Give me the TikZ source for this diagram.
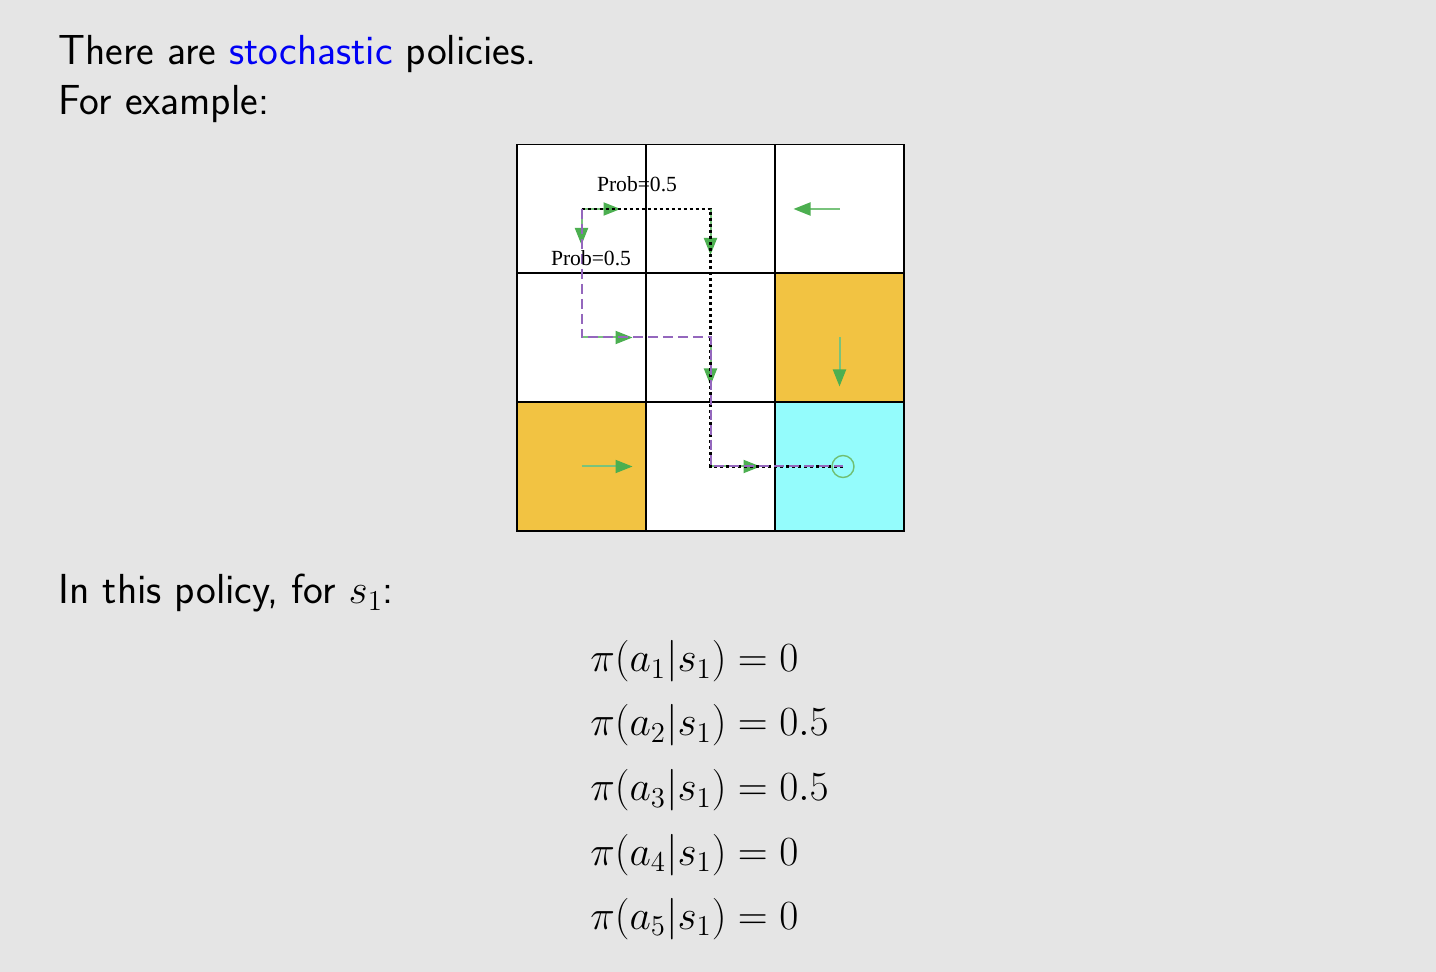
\documentclass[tikz,border=0pt]{standalone}
\usepackage{fontspec}
\newfontfamily\timesfont{Liberation Serif}
\usetikzlibrary{arrows.meta}
\definecolor{bg}{RGB}{229,229,229}
\definecolor{gold}{RGB}{242,195,66}
\definecolor{aqua}{RGB}{148,252,252}
\definecolor{agreen}{RGB}{76,175,80}
\definecolor{apurple}{RGB}{148,103,189}
\definecolor{sblue}{RGB}{0,0,245}
\tikzset{
  cell/.style={draw=black, line width=0.9pt, minimum size=64.5pt, inner sep=0pt, fill=white},
  act/.style={draw=agreen!75!white, line width=1pt, -{Triangle[color=agreen,length=8.5pt,width=6.5pt]}},
  pathA/.style={draw=black, line width=1.2pt, dash pattern=on 1.5pt off 1.5pt},
  pathB/.style={draw=apurple, line width=1pt, dash pattern=on 5pt off 2.5pt},
  bodytext/.style={anchor=base west, inner sep=0pt, font=\sffamily\fontsize{21}{25}\selectfont},
  eqtext/.style={anchor=base west, inner sep=0pt, font=\fontsize{20}{24}\selectfont},
  problabel/.style={inner sep=0pt, font=\timesfont\fontsize{10.8}{12}\selectfont}
}
\begin{document}
\begin{tikzpicture}[x=0.5pt,y=-0.5pt]
\fill[bg] (0,0) rectangle (1436,972);
\useasboundingbox (0,0) rectangle (1436,972);
% text
\node[bodytext] (t1) at (58,65) {There are \textcolor{sblue}{stochastic} policies.};
\node[bodytext] (t2) at (58,115) {For example:};
\node[bodytext] (t3) at (58,604) {In this policy, for $s_1$:};
% grid
\node[cell] (c11) at (581.5,209) {};
\node[cell] (c12) at (710.5,209) {};
\node[cell] (c13) at (839.5,209) {};
\node[cell] (c21) at (581.5,337.5) {};
\node[cell] (c22) at (710.5,337.5) {};
\node[cell, fill=gold] (c23) at (839.5,337.5) {};
\node[cell, fill=gold] (c31) at (581.5,466.5) {};
\node[cell] (c32) at (710.5,466.5) {};
\node[cell, fill=aqua] (c33) at (839.5,466.5) {};
% actions
\draw[act] (c11.center) -- ++(39,0);
\draw[act] (c11.center) -- ++(0,36);
\draw[act] (c12.center) -- ++(0,46);
\draw[act] (c13.center) -- ++(-46,0);
\draw[act] (c21.center) -- ++(51,0);
\draw[act] (c22.center) -- ++(0,48);
\draw[act] (c23.center) -- ++(0,49);
\draw[act] (c31.center) -- ++(51,0);
\draw[act] (c32.center) -- ++(50,0);
\node[draw=agreen!80!white, line width=0.7pt, circle, minimum size=11pt, inner sep=0pt] (goal) at (843,466.5) {};
% trajectories
\draw[pathA] (c11.center) -- (c12.center) -- (c32.center) -- (goal.center);
\draw[pathB] (c11.center) -- (c21.center) -- (c22.center) -- (c32.center) -- (goal.center);
% labels
\node[problabel] (p1) at (637,184) {Prob=0.5};
\node[problabel] (p2) at (591,258) {Prob=0.5};
% equations
\node[eqtext] (e1) at (590,672) {$\pi(a_1|s_1) = 0$};
\node[eqtext] (e2) at (590,736) {$\pi(a_2|s_1) = 0.5$};
\node[eqtext] (e3) at (590,801) {$\pi(a_3|s_1) = 0.5$};
\node[eqtext] (e4) at (590,865) {$\pi(a_4|s_1) = 0$};
\node[eqtext] (e5) at (590,929) {$\pi(a_5|s_1) = 0$};
\end{tikzpicture}
\end{document}
